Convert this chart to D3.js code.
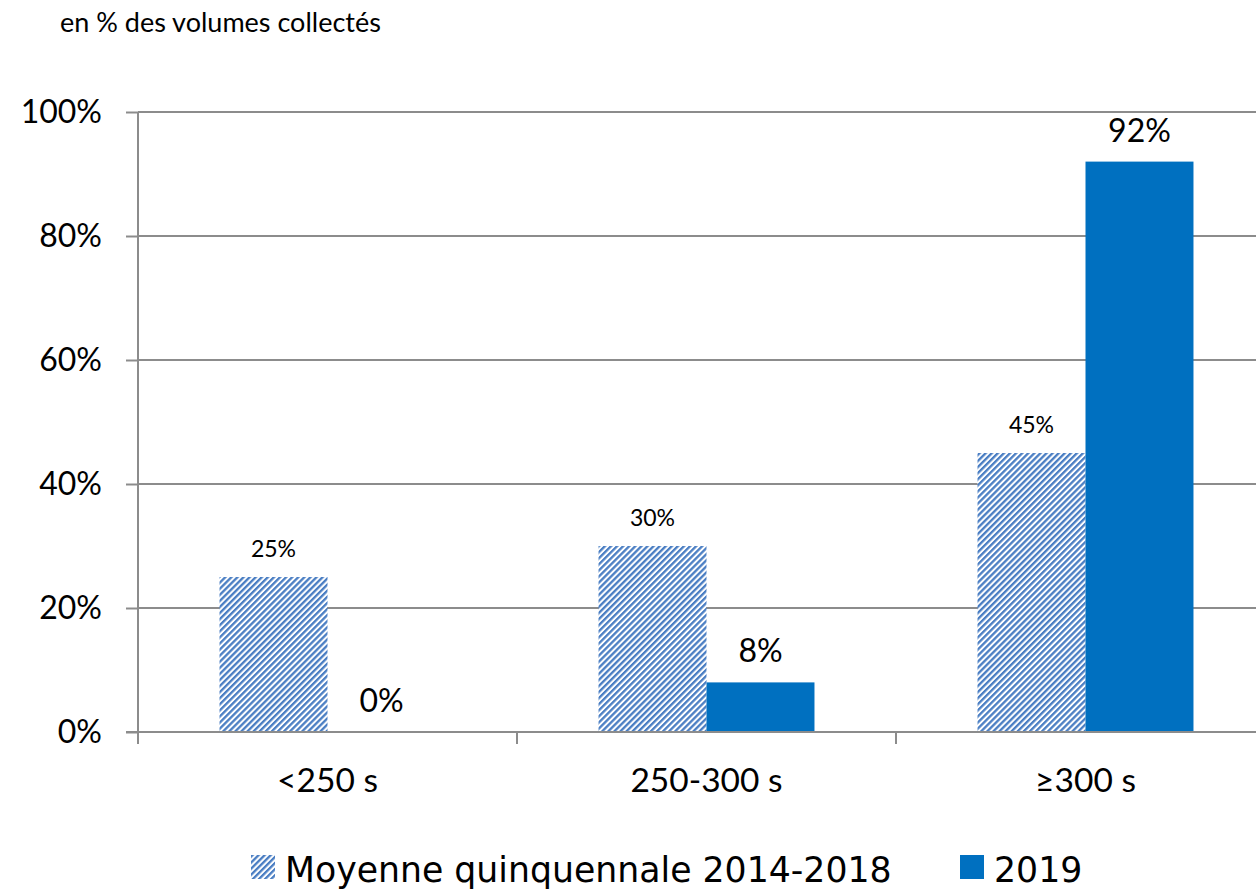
<!DOCTYPE html>
<html>
<head>
<meta charset="utf-8">
<script src="https://d3js.org/d3.v7.min.js"></script>
<style>
  body { margin: 0; background: #fff; }
  svg { display: block; }
</style>
</head>
<body>
<script>
var width = 1256;
var height = 891;

// data
var categories = ["<250 s", "250-300 s", "\u2265300 s"];
var seriesNames = ["Moyenne quinquennale 2014-2018", "2019"];
var avgValues = [25, 30, 45];
var values2019 = [0, 8, 92];
var yTicks = [0, 20, 40, 60, 80, 100];

var svg = d3.select("body").append("svg")
    .attr("width", width)
    .attr("height", height);

// hatch pattern for the 5-year average
var defs = svg.append("defs");
var pat = defs.append("pattern")
    .attr("id", "hatch")
    .attr("patternUnits", "userSpaceOnUse")
    .attr("width", 4.3)
    .attr("height", 4.3)
    .attr("patternTransform", "rotate(45)");
pat.append("rect").attr("width", 4.3).attr("height", 4.3).attr("fill", "#fff");
pat.append("rect").attr("x", 0).attr("width", 2.3).attr("height", 4.3).attr("fill", "#4a7ec3");

var plotLeft = 138, plotRight = 1275, plotTop = 112, plotBottom = 732;
var font = "Lato, 'Open Sans', sans-serif";

var x = d3.scaleBand().domain(categories).range([plotLeft, plotRight]).paddingInner(0).paddingOuter(0);
var y = d3.scaleLinear().domain([0, 100]).range([plotBottom, plotTop]);
var inner = d3.scaleBand().domain([0, 1]).range([0, x.bandwidth()]).paddingInner(0).paddingOuter(0.755);

// title
svg.append("text")
    .attr("x", 60).attr("y", 32)
    .style("font-family", font)
    .style("font-size", "27px")
    .text("en % des volumes collect\u00e9s");

// gridlines
svg.append("g").selectAll("line")
    .data(yTicks.filter(function(d) { return d > 0; }))
    .enter().append("line")
    .attr("x1", plotLeft).attr("x2", width)
    .attr("y1", function(d) { return y(d); })
    .attr("y2", function(d) { return y(d); })
    .attr("stroke", "#8c8c8c").attr("stroke-width", 2);

// y axis
var yAxis = svg.append("g")
    .attr("transform", "translate(" + plotLeft + ",0)")
    .call(d3.axisLeft(y).tickValues(yTicks).tickSize(12).tickPadding(24)
        .tickFormat(function(d) { return d + "%"; }));
yAxis.select(".domain").attr("stroke", "#8c8c8c").attr("stroke-width", 2)
    .attr("d", "M0," + plotTop + "V" + plotBottom);
yAxis.selectAll(".tick line").attr("stroke", "#8c8c8c").attr("stroke-width", 2);
yAxis.selectAll("text")
    .style("font-family", font)
    .style("font-size", "32px").attr("fill", "#000");

// bars
var groups = svg.append("g").selectAll("g")
    .data(categories)
    .enter().append("g")
    .attr("transform", function(d) { return "translate(" + x(d) + ",0)"; });

groups.append("rect")
    .attr("x", inner(0))
    .attr("width", inner.bandwidth())
    .attr("y", function(d, i) { return y(avgValues[i]); })
    .attr("height", function(d, i) { return y(0) - y(avgValues[i]); })
    .attr("fill", "url(#hatch)");

groups.append("rect")
    .attr("x", inner(1))
    .attr("width", inner.bandwidth())
    .attr("y", function(d, i) { return y(values2019[i]); })
    .attr("height", function(d, i) { return y(0) - y(values2019[i]); })
    .attr("fill", "#0070c0");

// data labels
groups.append("text")
    .attr("x", inner(0) + inner.bandwidth() / 2)
    .attr("y", function(d, i) { return y(avgValues[i]) - 20; })
    .attr("text-anchor", "middle")
    .style("font-family", font)
    .style("font-size", "23px")
    .text(function(d, i) { return avgValues[i] + "%"; });

groups.append("text")
    .attr("x", inner(1) + inner.bandwidth() / 2)
    .attr("y", function(d, i) { return y(values2019[i]) - 20; })
    .attr("text-anchor", "middle")
    .style("font-family", font)
    .style("font-size", "32px")
    .text(function(d, i) { return values2019[i] + "%"; });

// x axis
var xAxis = svg.append("g")
    .attr("transform", "translate(0," + plotBottom + ")");
xAxis.append("line")
    .attr("x1", plotLeft - 12).attr("x2", width)
    .attr("stroke", "#8c8c8c").attr("stroke-width", 2);
xAxis.selectAll(".xtick")
    .data(categories)
    .enter().append("line")
    .attr("x1", function(d) { return x(d); })
    .attr("x2", function(d) { return x(d); })
    .attr("y1", 0).attr("y2", 12)
    .attr("stroke", "#8c8c8c").attr("stroke-width", 2);
xAxis.selectAll(".xlabel")
    .data(categories)
    .enter().append("text")
    .attr("x", function(d) { return x(d) + x.bandwidth() / 2; })
    .attr("y", 60)
    .attr("text-anchor", "middle")
    .style("font-family", font)
    .style("font-size", "33.5px")
    .text(function(d) { return d; });

// legend
var legendX = [251, 960];
var legend = svg.append("g").selectAll("g")
    .data(seriesNames)
    .enter().append("g")
    .attr("transform", function(d, i) { return "translate(" + legendX[i] + ",855)"; });
legend.append("rect")
    .attr("width", 24).attr("height", 24)
    .attr("fill", function(d, i) { return i === 0 ? "url(#hatch)" : "#0070c0"; });
legend.append("text")
    .attr("x", 34).attr("y", 27)
    .style("font-family", "'DejaVu Sans', sans-serif")
    .style("font-size", "34.7px")
    .text(function(d) { return d; });
</script>
</body>
</html>
